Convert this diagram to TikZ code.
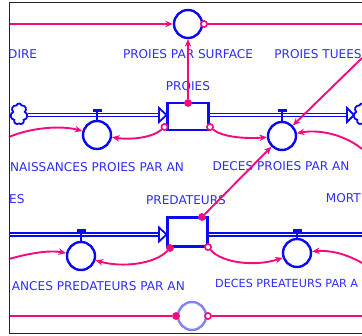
\documentclass[tikz,border=0pt]{standalone}
\usepackage{fontspec}
\setmainfont{DejaVu Sans}
\usetikzlibrary{shapes.symbols,arrows.meta,calc}
\definecolor{pinkc}{RGB}{245,10,125}
\definecolor{bluec}{RGB}{10,10,240}
\definecolor{textc}{RGB}{45,45,250}
\definecolor{lavc}{RGB}{130,130,240}
\begin{document}
\begin{tikzpicture}[x=1pt,y=-1pt,
 lbl/.style={text=textc, font=\fontsize{12.1}{13}\selectfont, inner sep=0pt},
 aux/.style={circle, draw=bluec, line width=2.4pt, minimum size=28pt, inner sep=0pt},
 stock/.style={rectangle, draw=bluec, line width=2.3pt, inner sep=0pt},
 pipe/.style={draw=bluec, double=white, line width=1.8pt, double distance=1.3pt},
 tri/.style={draw=bluec, fill=white, line width=1.8pt, line join=miter},
 tbar/.style={draw=bluec, line width=3pt},
 stem/.style={draw=bluec, line width=1.8pt},
 link/.style={draw=pinkc, line width=1.9pt, -{Stealth[length=7.5pt,width=6.5pt]}},
 plain/.style={draw=pinkc, line width=1.9pt},
 dotf/.style={circle, fill=pinkc, minimum size=7.5pt, inner sep=0pt},
 dotr/.style={circle, draw=pinkc, fill=white, line width=1.5pt, minimum size=6pt, inner sep=0pt},
 cloudn/.style={cloud, cloud puffs=7, draw=bluec, fill=white, line width=1.8pt, minimum width=17pt, minimum height=21pt, inner sep=0pt},
]
\useasboundingbox (0,0) rectangle (362,336);
\begin{scope}
\clip (8.5,0) rectangle (362,336);
% frame
\draw[black!85, line width=1pt] (9,3) rectangle (372,334);

% texts
\node[lbl, anchor=west] (t1) at (8,54.3) {DIRE};
\node[lbl] (t2) at (188,54.3) {PROIES PAR SURFACE};
\node[lbl] (t3) at (318,54.3) {PROIES TUEES};
\node[lbl] (t4) at (188,86.5) {PROIES};
\node[lbl] (t5) at (97,167) {NAISSANCES PROIES PAR AN};
\node[lbl] (t6) at (281,166.5) {DECES PROIES PAR AN};
\node[lbl, anchor=west] (t7) at (9,199.5) {ES};
\node[lbl] (t8) at (186,200.5) {PREDATEURS};
\node[lbl, anchor=east] (t9) at (361,198.5) {MORT};
\node[lbl, anchor=east] (t10) at (185,286.5) {ANCES PREDATEURS PAR AN};
\node[lbl, anchor=west, font=\fontsize{11.2}{13}\selectfont] (t11) at (215,283.5) {DECES PREATEURS PAR A};

% stocks
\node[stock, minimum width=41pt, minimum height=27pt] (proies) at (188,116.5) {};
\node[stock, minimum width=40pt, minimum height=29pt] (pred) at (187.5,232) {};

% clouds
\node[cloudn] (cloudL) at (19,114) {};
\node[cloudn] (cloudR) at (362,114) {};

% coordinates for pipe ends
\coordinate (pa) at (159,115);
\coordinate (pb) at (347,115);
\coordinate (pc) at (9,234.5);
\coordinate (pd) at (159,234.5);
\coordinate (pe) at (362,234.5);

% pipes
\draw[pipe] (cloudL.east |- pa) -- (pa);
\draw[pipe] (proies.east |- pa) -- (pb);
\draw[pipe] (pc) -- (pd);
\draw[pipe] (pred.east |- pd) -- (pe);
\draw[tri] ($(pa)+(0,-7)$) -- ($(pa)+(7.5,0)$) -- ($(pa)+(0,7)$) -- cycle;
\draw[tri] ($(pb)+(0,-7)$) -- ($(pb)+(7,0)$) -- ($(pb)+(0,7)$) -- cycle;
\draw[tri] ($(pd)+(0,-7)$) -- ($(pd)+(7.5,0)$) -- ($(pd)+(0,7)$) -- cycle;

% valves (flow auxiliaries)
\node[aux] (np) at (97,135) {};
\node[aux] (dp) at (282,136) {};
\node[aux] (npd) at (81,256) {};
\node[aux] (dpd) at (297,253) {};
\draw[stem] (np.north) -- (np.north |- 0,111);
\draw[tbar] ($(np.north |- 0,111)+(-4.5,0)$) -- ++(9,0);
\draw[stem] (dp.north) -- (dp.north |- 0,111);
\draw[tbar] ($(dp.north |- 0,111)+(-4.5,0)$) -- ++(9,0);
\draw[stem] (npd.north) -- (npd.north |- 0,231);
\draw[tbar] ($(npd.north |- 0,231)+(-4.5,0)$) -- ++(9,0);
\draw[stem] (dpd.north) -- (dpd.north |- 0,230.5);
\draw[tbar] ($(dpd.north |- 0,230.5)+(-4.5,0)$) -- ++(9,0);

% auxiliaries
\node[aux] (ps) at (188,24) {};
\node[aux, draw=lavc] (bot) at (192,316) {};

% free ends
\coordinate (l12) at (9,24);
\coordinate (r13) at (362,24);
\coordinate (l2) at (9,137);
\coordinate (pt) at (362,58);
\coordinate (r6) at (362,149);
\coordinate (l8) at (9,259);
\coordinate (r10) at (362,263);
\coordinate (l14) at (9,316);
\coordinate (r14) at (362,316);

% dots
\node[dotf] (ptop) at (188,103) {};
\node[dotr] (rbl) at (164.5,127) {};
\node[dotr] (rbr) at (210,127) {};
\node[dotr] (psr) at (204,24) {};
\node[dotf] (pdtr) at (202,217) {};
\node[dotf] (pdbl) at (170,248) {};
\node[dotr] (pdbr) at (208,247) {};
\node[dotf] (bl) at (176,316) {};
\node[dotr] (br) at (208,316) {};

% links
\draw[link] (l12) -- (ps);
\draw[plain] (psr) -- (r13);
\draw[link] (ptop) -- (ps);
\draw[link] (rbl) .. controls (152,138) and (130,140) .. (np);
\draw[link] (l2) .. controls (30,128) and (60,125) .. (np);
\draw[link] (rbr) .. controls (222,137) and (245,139) .. (dp);
\draw[link] (pt) -- (dp);
\draw[link] (pdtr) -- (dp);
\draw[link] (r6) .. controls (345,135) and (320,129) .. (dp);
\draw[link] (pdbl) .. controls (155,264) and (122,268) .. (npd);
\draw[link] (l8) .. controls (30,253) and (50,250) .. (npd);
\draw[link] (pdbr) .. controls (222,263) and (255,267) .. (dpd);
\draw[link] (r10) .. controls (345,253) and (328,250) .. (dpd);
\draw[plain] (l14) -- (bl);
\draw[plain] (br) -- (r14);
% redraw dots on top
\node[dotf] at (ptop) {};
\node[dotr] at (rbl) {};
\node[dotr] at (rbr) {};
\node[dotr] at (psr) {};
\node[dotf] at (pdtr) {};
\node[dotf] at (pdbl) {};
\node[dotr] at (pdbr) {};
\node[dotf] at (bl) {};
\node[dotr] at (br) {};
% frame left edge on top of cloud
\draw[black!85, line width=1pt] (9,3) -- (9,334);
\end{scope}
\end{tikzpicture}
\end{document}
